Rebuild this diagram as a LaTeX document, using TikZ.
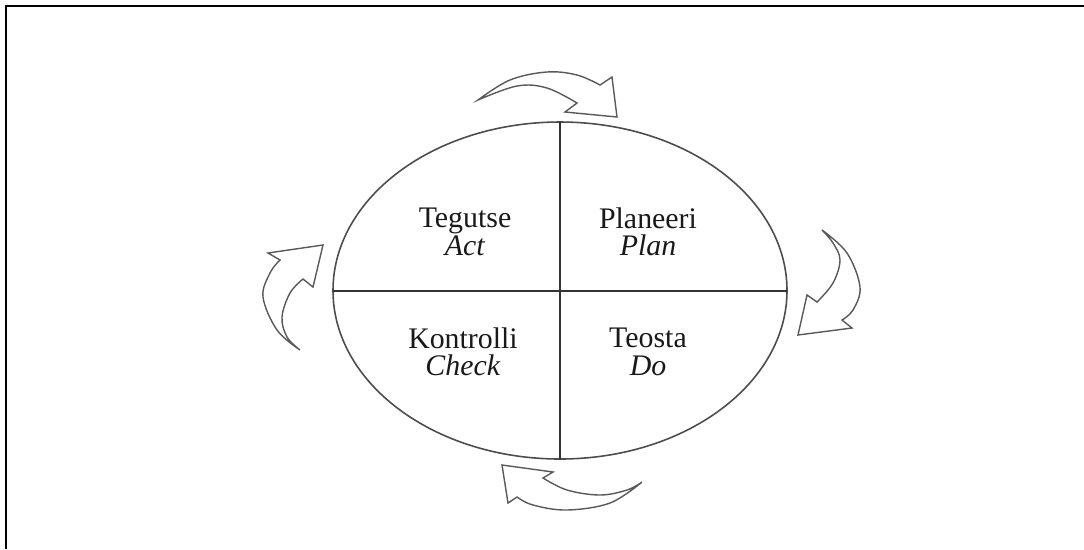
\documentclass[tikz,border=0pt]{standalone}
\usepackage{fontspec}
\setmainfont{Liberation Serif}
\begin{document}
\begin{tikzpicture}[x=0.02cm,y=-0.02cm,
  blockarrow/.style={draw=black!65, line width=0.8pt, line join=miter},
  divider/.style={draw=black!80, line width=1.1pt},
  oval/.style={draw=black!70, line width=0.9pt},
  label/.style={align=center, font=\fontsize{17}{15.6}\selectfont, text=black!90, inner sep=0pt}]
\useasboundingbox (0,0) rectangle (1084,549);
% frame (top and left only)
\draw[line width=1.2pt, black] (6,549) -- (6,6) -- (1084,6);
% oval and dividers
\draw[oval] (560,290.5) ellipse [x radius=227, y radius=168.5];
\coordinate (top) at (560,122);
\coordinate (bot) at (560,459);
\coordinate (lft) at (333,291);
\coordinate (rgt) at (787,291);
\draw[divider] (top) -- (bot);
\draw[divider] (lft) -- (rgt);
% labels
\node[label] (act)   at (465,232) {Tegutse\\\textit{Act}};
\node[label] (plan)  at (648,232) {Planeeri\\\textit{Plan}};
\node[label] (check) at (463,352) {Kontrolli\\\textit{Check}};
\node[label] (do)    at (648,352) {Teosta\\\textit{Do}};
% top arrow
\draw[blockarrow] plot[smooth, tension=0.6] coordinates {(478,100) (510,80) (547,72) (577,75) (600,85)}
  -- (612,77) -- (617,117) -- (565,112) -- (577,103)
  -- plot[smooth, tension=0.6] coordinates {(577,103) (547,88) (517,86) (478,100)} -- cycle;
% right arrow
\draw[blockarrow] plot[smooth, tension=0.6] coordinates {(822,230) (847,253) (860,287) (853,310) (842,320)}
  -- (852,328) -- (798,335) -- (807,295) -- (817,302)
  -- plot[smooth, tension=0.6] coordinates {(817,302) (833,283) (840,260) (833,243) (822,230)} -- cycle;
% bottom arrow
\draw[blockarrow] plot[smooth, tension=0.6] coordinates {(642,482) (610,503) (567,510) (533,505) (517,497)}
  -- (508,503) -- (502,465) -- (553,472) -- (543,478)
  -- plot[smooth, tension=0.6] coordinates {(543,478) (567,490) (600,495) (627,490) (642,482)} -- cycle;
% left arrow
\draw[blockarrow] plot[smooth, tension=0.6] coordinates {(300,350) (277,330) (263,297) (270,273) (280,260)}
  -- (268,253) -- (323,245) -- (313,287) -- (303,279)
  -- plot[smooth, tension=0.6] coordinates {(303,279) (290,293) (282,317) (287,337) (300,350)} -- cycle;
\end{tikzpicture}
\end{document}
